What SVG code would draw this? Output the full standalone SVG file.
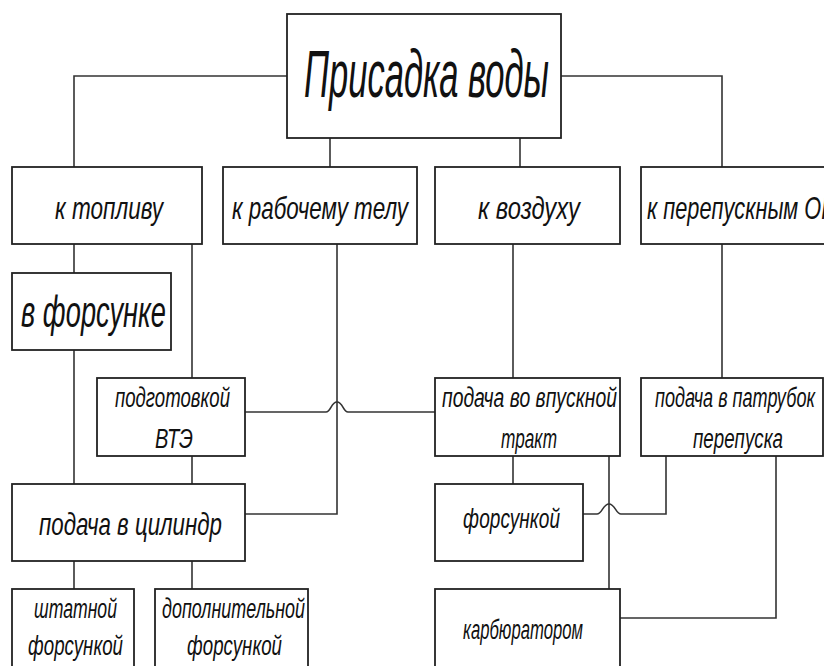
<svg xmlns="http://www.w3.org/2000/svg" width="824" height="666" viewBox="0 0 824 666">
<style>
.box{fill:#fff;stroke:#222;stroke-width:1.8}
.ln{fill:none;stroke:#333;stroke-width:1.6}
text{font-family:"Liberation Sans Narrow","Liberation Sans",sans-serif;font-style:italic;fill:#111;font-size:32px}
.big{font-size:66px}
.mid{font-size:44px}
.sm{font-size:27px}
</style>
<rect width="824" height="666" fill="#fff"/>
<g id="connectors">
<path class="ln" d="M287 76 H74 V167"/>
<path class="ln" d="M561 76 H722 V167"/>
<path class="ln" d="M330 138 V167"/>
<path class="ln" d="M520 138 V167"/>
<path class="ln" d="M74 244 V273"/>
<path class="ln" d="M192 244 V378"/>
<path class="ln" d="M74 350 V484"/>
<path class="ln" d="M192 456 V484"/>
<path class="ln" d="M337 244 V514 H245"/>
<path class="ln" d="M245 412 H326 C331 412 331 402 337 402 C343 402 343 412 348 412 H435"/>
<path class="ln" d="M74 561 V589"/>
<path class="ln" d="M192 561 V589"/>
<path class="ln" d="M513 244 V378"/>
<path class="ln" d="M722 244 V378"/>
<path class="ln" d="M513 456 V484"/>
<path class="ln" d="M609 456 V589"/>
<path class="ln" d="M666 456 V514 H621 C616 514 615 504 609 504 C603 504 602 514 597 514 H583"/>
<path class="ln" d="M776 456 V618 H620"/>
</g>
<g id="n-main"><rect class="box" x="287" y="14" width="274" height="124"/><text class="big" x="304" y="97" textLength="245" lengthAdjust="spacingAndGlyphs">Присадка воды</text></g>
<g id="n-fuel"><rect class="box" x="12" y="167" width="190" height="77"/><text x="55" y="219" textLength="108" lengthAdjust="spacingAndGlyphs">к топливу</text></g>
<g id="n-body"><rect class="box" x="223" y="167" width="194" height="77"/><text x="232" y="219" textLength="176" lengthAdjust="spacingAndGlyphs">к рабочему телу</text></g>
<g id="n-air"><rect class="box" x="435" y="167" width="185" height="77"/><text x="478" y="219" textLength="102" lengthAdjust="spacingAndGlyphs">к воздуху</text></g>
<g id="n-bypass"><rect class="box" x="641" y="167" width="200" height="77"/><text x="647" y="219" textLength="186" lengthAdjust="spacingAndGlyphs">к перепускным ОГ</text></g>
<g id="n-injector"><rect class="box" x="12" y="273" width="159" height="77"/><text class="mid" x="21" y="327" textLength="145" lengthAdjust="spacingAndGlyphs">в форсунке</text></g>
<g id="n-prep"><rect class="box" x="97" y="378" width="148" height="78"/><text class="sm" x="115" y="407" textLength="115" lengthAdjust="spacingAndGlyphs">подготовкой</text><text class="sm" x="155" y="448" textLength="38" lengthAdjust="spacingAndGlyphs">ВТЭ</text></g>
<g id="n-cyl"><rect class="box" x="12" y="484" width="233" height="77"/><text x="39" y="535" textLength="183" lengthAdjust="spacingAndGlyphs">подача в цилиндр</text></g>
<g id="n-std"><rect class="box" x="12" y="589" width="122" height="90"/><text class="sm" x="34" y="618" textLength="83" lengthAdjust="spacingAndGlyphs">штатной</text><text class="sm" x="28" y="655" textLength="95" lengthAdjust="spacingAndGlyphs">форсункой</text></g>
<g id="n-add"><rect class="box" x="155" y="589" width="153" height="90"/><text class="sm" x="162" y="618" textLength="143" lengthAdjust="spacingAndGlyphs">дополнительной</text><text class="sm" x="187" y="655" textLength="95" lengthAdjust="spacingAndGlyphs">форсункой</text></g>
<g id="n-intake"><rect class="box" x="435" y="378" width="185" height="78"/><text class="sm" x="442" y="407" textLength="175" lengthAdjust="spacingAndGlyphs">подача во впускной</text><text class="sm" x="501" y="448" textLength="56" lengthAdjust="spacingAndGlyphs">тракт</text></g>
<g id="n-pipe"><rect class="box" x="641" y="378" width="182" height="78"/><text class="sm" x="655" y="407" textLength="160" lengthAdjust="spacingAndGlyphs">подача в патрубок</text><text class="sm" x="693" y="448" textLength="90" lengthAdjust="spacingAndGlyphs">перепуска</text></g>
<g id="n-nozzle"><rect class="box" x="435" y="484" width="148" height="77"/><text class="sm" x="463" y="528" textLength="97" lengthAdjust="spacingAndGlyphs">форсункой</text></g>
<g id="n-carb"><rect class="box" x="435" y="589" width="185" height="90"/><text class="sm" x="463" y="639" textLength="120" lengthAdjust="spacingAndGlyphs">карбюратором</text></g>
</svg>
